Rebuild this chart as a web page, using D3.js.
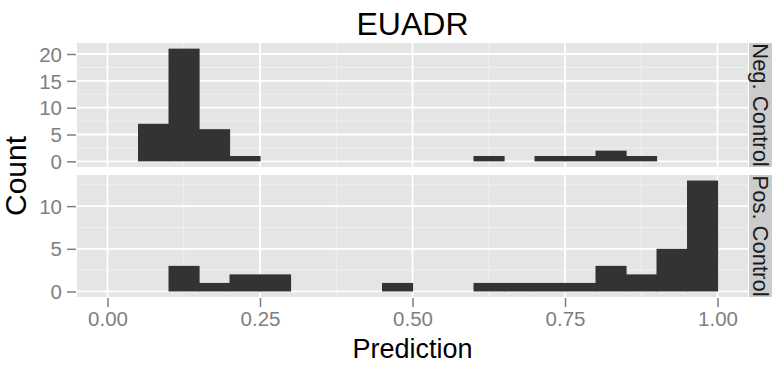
<!DOCTYPE html>
<html>
<head>
<meta charset="utf-8">
<script src="https://cdn.jsdelivr.net/npm/d3@7"></script>
<style>
  body { margin: 0; background: #fff; }
  svg text { font-family: "Liberation Sans", Arial, sans-serif; }
</style>
</head>
<body>
<div class="chart"></div>
<script>
// Histogram bins (left edges) and counts per facet
var binStarts = [0.00, 0.05, 0.10, 0.15, 0.20, 0.25, 0.30, 0.35, 0.40, 0.45,
                 0.50, 0.55, 0.60, 0.65, 0.70, 0.75, 0.80, 0.85, 0.90, 0.95];
var binWidth = 0.05;
var negCounts = [0, 7, 21, 6, 1, 0, 0, 0, 0, 0, 0, 0, 1, 0, 1, 1, 2, 1, 0, 0];
var posCounts = [0, 0, 3, 1, 2, 2, 0, 0, 0, 1, 0, 0, 1, 1, 1, 1, 3, 2, 5, 13];
var facetLabels = ["Neg. Control", "Pos. Control"];
var xTicks = [0, 0.25, 0.5, 0.75, 1.0];
var negYTicks = [0, 5, 10, 15, 20];
var posYTicks = [0, 5, 10];

var svgWidth = 773;
var svgHeight = 368;

var svg = d3.select(".chart")
    .append("svg")
    .attr("width", svgWidth)
    .attr("height", svgHeight);

// panel geometry
var panelLeft = 77, panelRight = 748;
var stripLeft = 749, stripRight = 772;
var panels = [
    {label: facetLabels[0], counts: negCounts, ticks: negYTicks, top: 43, bottom: 167},
    {label: facetLabels[1], counts: posCounts, ticks: posYTicks, top: 175, bottom: 297}
];

var xScale = d3.scaleLinear()
    .domain([-0.05, 1.05])
    .range([panelLeft, panelRight]);

var xMinor = [0.125, 0.375, 0.625, 0.875];

panels.forEach(function(p, i) {
    var maxC = d3.max(p.counts);
    var pad = maxC * 0.05;
    var yScale = d3.scaleLinear()
        .domain([-pad, maxC + pad])
        .range([p.bottom, p.top]);

    var g = svg.append("g");

    // background
    g.append("rect")
        .attr("x", panelLeft).attr("y", p.top)
        .attr("width", panelRight - panelLeft)
        .attr("height", p.bottom - p.top)
        .attr("fill", "#e5e5e5");

    // minor grid
    var yMinor = p.ticks.slice(0, -1).map(function(t) { return t + 2.5; });
    if (maxC + pad > p.ticks[p.ticks.length - 1] + 2.5) yMinor.push(p.ticks[p.ticks.length - 1] + 2.5);
    g.selectAll(".minorY").data(yMinor).enter().append("line")
        .attr("x1", panelLeft).attr("x2", panelRight)
        .attr("y1", d => yScale(d)).attr("y2", d => yScale(d))
        .attr("stroke", "#f2f2f2").attr("stroke-width", 0.8);
    g.selectAll(".minorX").data(xMinor).enter().append("line")
        .attr("y1", p.top).attr("y2", p.bottom)
        .attr("x1", d => xScale(d)).attr("x2", d => xScale(d))
        .attr("stroke", "#f2f2f2").attr("stroke-width", 0.8);

    // major grid
    g.selectAll(".majorY").data(p.ticks).enter().append("line")
        .attr("x1", panelLeft).attr("x2", panelRight)
        .attr("y1", d => yScale(d)).attr("y2", d => yScale(d))
        .attr("stroke", "#ffffff").attr("stroke-width", 1.8);
    g.selectAll(".majorX").data(xTicks).enter().append("line")
        .attr("y1", p.top).attr("y2", p.bottom)
        .attr("x1", d => xScale(d)).attr("x2", d => xScale(d))
        .attr("stroke", "#ffffff").attr("stroke-width", 1.8);

    // bars
    var bins = binStarts.map(function(b, j) { return {x0: b, n: p.counts[j]}; })
        .filter(function(d) { return d.n > 0; });
    g.selectAll(".bar").data(bins).enter().append("rect")
        .attr("x", d => xScale(d.x0))
        .attr("width", d => xScale(d.x0 + binWidth) - xScale(d.x0) + 0.6)
        .attr("y", d => yScale(d.n))
        .attr("height", d => yScale(0) - yScale(d.n))
        .attr("fill", "#333333");

    // y axis
    var leftAxis = d3.axisLeft(yScale)
        .tickValues(p.ticks)
        .tickSize(9)
        .tickPadding(5);
    var ay = svg.append("g")
        .attr("transform", `translate(${panelLeft - 1}, 0)`)
        .call(leftAxis);
    ay.select(".domain").remove();
    ay.selectAll("line").attr("stroke", "#7f7f7f").attr("stroke-width", 1.5);
    ay.selectAll("text")
        .attr("fill", "#7f7f7f")
        .attr("font-size", "20.5px")
        .attr("dy", "0.35em");

    // strip
    svg.append("rect")
        .attr("x", stripLeft).attr("y", p.top)
        .attr("width", stripRight - stripLeft)
        .attr("height", p.bottom - p.top)
        .attr("fill", "#cccccc");
    svg.append("text")
        .attr("transform", `translate(${(stripLeft + stripRight) / 2}, ${(p.top + p.bottom) / 2}) rotate(90)`)
        .attr("text-anchor", "middle")
        .attr("dy", "0.35em")
        .attr("font-size", "22px")
        .attr("fill", "#1a1a1a")
        .text(p.label);

    // x axis only on bottom panel
    if (i === panels.length - 1) {
        var bottomAxis = d3.axisBottom(xScale)
            .tickValues(xTicks)
            .tickFormat(d3.format(".2f"))
            .tickSize(9)
            .tickPadding(4);
        var ax = svg.append("g")
            .attr("transform", `translate(0, ${p.bottom + 1})`)
            .call(bottomAxis);
        ax.select(".domain").remove();
        ax.selectAll("line").attr("stroke", "#7f7f7f").attr("stroke-width", 1.5);
        ax.selectAll("text")
            .attr("fill", "#7f7f7f")
            .attr("font-size", "20.5px");
    }
});

// title
svg.append("text")
    .attr("x", (panelLeft + panelRight) / 2)
    .attr("y", 35)
    .attr("text-anchor", "middle")
    .attr("font-size", "32px")
    .attr("fill", "#000")
    .text("EUADR");

// axis titles
svg.append("text")
    .attr("x", (panelLeft + panelRight) / 2)
    .attr("y", 358)
    .attr("text-anchor", "middle")
    .attr("font-size", "27px")
    .attr("fill", "#000")
    .text("Prediction");

svg.append("text")
    .attr("transform", "translate(26, 176) rotate(-90)")
    .attr("text-anchor", "middle")
    .attr("font-size", "30px")
    .attr("fill", "#000")
    .text("Count");
</script>
</body>
</html>
